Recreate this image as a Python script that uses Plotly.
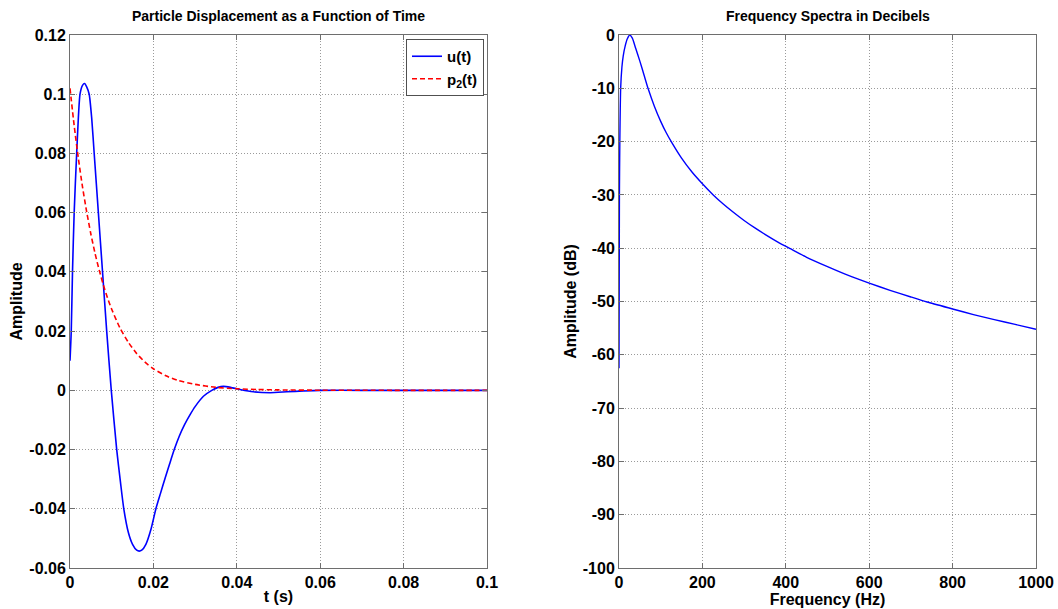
import plotly.graph_objects as go

# ---- Left panel data: particle displacement ----
t_u = [0, 0.0003, 0.0006, 0.0010, 0.0016, 0.0024, 0.0030, 0.0035, 0.0040, 0.0046,
       0.0052, 0.0058, 0.0068, 0.0078, 0.0088, 0.0099, 0.0112, 0.0121, 0.0129, 0.0140, 0.0150,
       0.0160, 0.0166, 0.0172, 0.0182, 0.0194, 0.0206, 0.0217, 0.0228, 0.0239, 0.0250, 0.0262,
       0.0275, 0.0288, 0.0300, 0.0320, 0.0340, 0.0355, 0.0368, 0.0385, 0.0410, 0.0440, 0.0480,
       0.0520, 0.0560, 0.0600, 0.0700, 0.0800, 0.0900, 0.1000]
u_vals = [0.010, 0.020, 0.040, 0.060, 0.080, 0.100, 0.1030, 0.1036, 0.1025, 0.100,
          0.092, 0.080, 0.060, 0.040, 0.020, 0.000, -0.020, -0.031, -0.040, -0.048, -0.052,
          -0.0540, -0.0543, -0.0540, -0.052, -0.047, -0.040, -0.0348, -0.0297, -0.0248, -0.020, -0.0155,
          -0.0115, -0.0082, -0.0055, -0.0020, 0.0000, 0.0010, 0.00135, 0.0010, 0.0002, -0.0005, -0.0008,
          -0.0005, -0.0002, 0.0, 0.0, 0.0, 0.0, 0.0]

t_p = [0, 0.001, 0.002, 0.003, 0.004, 0.005, 0.006, 0.007, 0.008, 0.009, 0.010,
       0.012, 0.014, 0.016, 0.018, 0.020, 0.023, 0.026, 0.030, 0.035, 0.040, 0.045,
       0.050, 0.060, 0.070, 0.080, 0.090, 0.100]
p_vals = [0.102, 0.0894, 0.0784, 0.0687, 0.0603, 0.0528, 0.0463, 0.0406, 0.0356, 0.0312, 0.0274,
          0.0210, 0.0162, 0.0124, 0.0095, 0.0073, 0.0049, 0.0033, 0.0020, 0.0010, 0.00053, 0.00027,
          0.00014, 0.00004, 0.00001, 0.0, 0.0, 0.0]

# ---- Right panel data: spectrum in dB ----
freq = [0, 1, 2, 4, 7, 10, 15, 20, 26, 32, 40, 50, 60, 70, 85, 100, 113, 126, 150, 175, 200,
        226, 250, 275, 300, 325, 350, 380, 411, 450, 500, 550, 600, 650, 700, 739, 800, 850,
        900, 950, 1000]
db_vals = [-62.5, -30, -20, -10, -6, -4, -2, -0.7, 0, -0.6, -2.5, -4.9, -7.5, -10.1, -13.4, -16.2,
           -18.3, -20.1, -23.1, -25.7, -27.9, -30, -31.7, -33.3, -34.8, -36.15, -37.4, -38.8, -40.1,
           -41.7, -43.45, -45.1, -46.55, -47.9, -49.15, -50.1, -51.4, -52.45, -53.4, -54.3, -55.2]

# ---- Tick labels ----
left_y_ticks = [0.12, 0.1, 0.08, 0.06, 0.04, 0.02, 0, -0.02, -0.04, -0.06]
left_y_text = ["0.12", "0.1", "0.08", "0.06", "0.04", "0.02", "0", "-0.02", "-0.04", "-0.06"]
left_x_ticks = [0, 0.02, 0.04, 0.06, 0.08, 0.1]
left_x_text = ["0", "0.02", "0.04", "0.06", "0.08", "0.1"]
right_y_ticks = [0, -10, -20, -30, -40, -50, -60, -70, -80, -90, -100]
right_y_text = ["0", "-10", "-20", "-30", "-40", "-50", "-60", "-70", "-80", "-90", "-100"]
right_x_ticks = [0, 200, 400, 600, 800, 1000]
right_x_text = ["0", "200", "400", "600", "800", "1000"]

FONT = "Liberation Sans"
W, H = 1058, 609
L, R, T, B = 70, 22, 35, 41
pw = W - L - R
ph = H - T - B

fig = go.Figure()
fig.add_trace(go.Scatter(x=t_u, y=u_vals, mode="lines", name="u(t)",
                         line=dict(color="#0000FF", width=1.6, shape="spline", smoothing=0.6),
                         xaxis="x", yaxis="y"))
fig.add_trace(go.Scatter(x=t_p, y=p_vals, mode="lines", name="p<sub>2</sub>(t)",
                         line=dict(color="#FF0000", width=1.6, dash="5px,3px", shape="spline", smoothing=0.6),
                         xaxis="x", yaxis="y"))
fig.add_trace(go.Scatter(x=freq, y=db_vals, mode="lines", name="spectrum", showlegend=False,
                         line=dict(color="#0000FF", width=1.4, shape="spline", smoothing=0.6),
                         xaxis="x2", yaxis="y2"))

axis_common = dict(showline=True, linecolor="#6e6e6e", linewidth=1, mirror="ticks",
                   ticks="inside", ticklen=5, tickcolor="#6e6e6e",
                   showgrid=True, gridcolor="#9a9a9a", griddash="1px,2px", gridwidth=1,
                   zeroline=False, automargin=False,
                   tickfont=dict(family=FONT, size=16, color="black", weight="bold"))

left_dom = [0, 417 / pw]
right_dom = [(619 - L) / pw, 1]

title_font = dict(family=FONT, size=16, weight="bold", color="black")

fig.update_layout(
    width=W, height=H,
    margin=dict(l=L, r=R, t=T, b=B),
    paper_bgcolor="white", plot_bgcolor="white",
    font=dict(family=FONT, color="black"),
    xaxis=dict(domain=left_dom, range=[0, 0.1], tickvals=left_x_ticks, ticktext=left_x_text,
               title=dict(text="t (s)", font=title_font, standoff=0),
               anchor="y", **axis_common),
    yaxis=dict(domain=[0, 1], range=[-0.06, 0.12], tickvals=left_y_ticks, ticktext=left_y_text,
               title=dict(text="Amplitude", font=title_font, standoff=2),
               anchor="x", **axis_common),
    xaxis2=dict(domain=right_dom, range=[0, 1000], tickvals=right_x_ticks, ticktext=right_x_text,
                title=dict(text="Frequency (Hz)", font=title_font, standoff=0),
                anchor="y2", **axis_common),
    yaxis2=dict(domain=[0, 1], range=[-100, 0], tickvals=right_y_ticks, ticktext=right_y_text,
                title=dict(text="Amplitude (dB)", font=title_font, standoff=2),
                anchor="x2", **axis_common),
    legend=dict(x=left_dom[1] - 3 / pw, y=1 - 4 / ph, xanchor="right", yanchor="top",
                bgcolor="white", bordercolor="#505050", borderwidth=1,
                font=dict(family=FONT, size=15, color="black", weight="bold"),
                tracegroupgap=0, itemwidth=30),
    annotations=[
        dict(text="Particle Displacement as a Function of Time", xref="paper", yref="paper",
             x=(left_dom[0] + left_dom[1]) / 2, xanchor="center", y=1, yanchor="bottom", yshift=9,
             showarrow=False, font=dict(family=FONT, size=14, weight="bold", color="black")),
        dict(text="Frequency Spectra in Decibels", xref="paper", yref="paper",
             x=(right_dom[0] + right_dom[1]) / 2, xanchor="center", y=1, yanchor="bottom", yshift=9,
             showarrow=False, font=dict(family=FONT, size=14, weight="bold", color="black")),
    ],
)

fig.write_html("out.html")
